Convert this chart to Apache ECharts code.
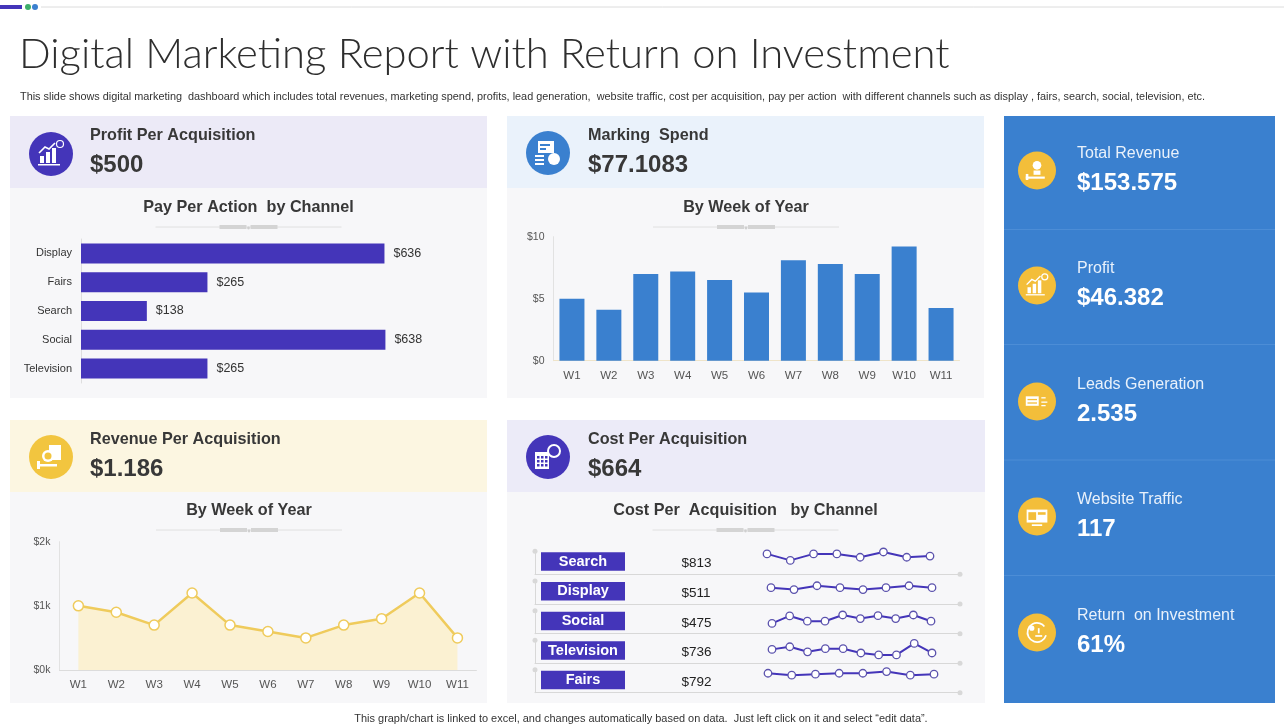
<!DOCTYPE html>
<html lang="en">
<head>
<meta charset="UTF-8">
<title>Digital Marketing Report with Return on Investment</title>
<script src="https://cdn.jsdelivr.net/npm/echarts@6/dist/echarts.min.js"></script>
<style>
  html, body { margin: 0; padding: 0; background: #fff; }
  #main { width: 1284px; height: 726px; }
</style>
</head>
<body>
<div id="main"></div>
<script>
// ---- data ----
const ppaChannels = ['Display', 'Fairs', 'Search', 'Social', 'Television'];
const ppaValues = [636, 265, 138, 638, 265];

const weeks = ['W1', 'W2', 'W3', 'W4', 'W5', 'W6', 'W7', 'W8', 'W9', 'W10', 'W11'];
const spendValues = [5.0, 4.1, 7.0, 7.2, 6.5, 5.5, 8.1, 7.8, 7.0, 9.2, 4.25];
const revenueValues = [1000, 900, 700, 1200, 700, 600, 500, 700, 800, 1200, 500];

const cpaChannels = ['Search', 'Display', 'Social', 'Television', 'Fairs'];
const cpaValues = ['$813', '$511', '$475', '$736', '$792'];
// sparkline values (relative, 0-100 scale)
const trendSearch = [85, 58, 85, 85, 71, 93, 71, 76];
const trendDisplay = [68, 60, 76, 68, 60, 68, 76, 68];
const trendSocial = [43, 74, 52, 52, 78, 63, 75, 63, 78, 52];
const trendTelevision = [58, 69, 48, 61, 61, 43, 35, 35, 83, 43];
const trendFairs = [81, 73, 77, 81, 81, 88, 73, 77];
const cpaTrends = [trendSearch, trendDisplay, trendSocial, trendTelevision, trendFairs];

const kpiLabels = ['Total Revenue', 'Profit', 'Leads Generation', 'Website Traffic', 'Return  on Investment'];
const kpiValues = ['$153.575', '$46.382', '2.535', '117', '61%'];

const titleText = 'Digital Marketing Report with Return on Investment';
const subText = 'This slide shows digital marketing  dashboard which includes total revenues, marketing spend, profits, lead generation,  website traffic, cost per acquisition, pay per action  with different channels such as display , fairs, search, social, television, etc.';
const footText = 'This graph/chart is linked to excel, and changes automatically based on data.  Just left click on it and select \u201cedit data\u201d.';

// ---- colours ----
const PURPLE = '#4435B9';
const BLUE = '#3A80CF';
const GOLD = '#F2C53F';
const DARK = '#383838';
const SANS = '"Liberation Sans", Arial, sans-serif';

// fit a text to a width by font size
function fitSize(text, weight, family, target) {
  const ctx = document.createElement('canvas').getContext('2d');
  ctx.font = weight + ' 100px ' + family;
  return 100 * target / ctx.measureText(text).width;
}

function txt(x, y, text, size, opts) {
  opts = opts || {};
  return {
    type: 'text', x: x, y: y, silent: true,
    style: {
      text: text,
      fill: opts.fill || DARK,
      font: (opts.weight || 'normal') + ' ' + size + 'px ' + (opts.family || SANS),
      align: opts.align || 'left', textAlign: opts.align || 'left',
      verticalAlign: 'middle', textVerticalAlign: 'middle'
    }
  };
}
function rect(x, y, w, h, fill) {
  return { type: 'rect', silent: true, shape: { x: x, y: y, width: w, height: h }, style: { fill: fill } };
}
function circ(cx, cy, r, fill) {
  return { type: 'circle', silent: true, shape: { cx: cx, cy: cy, r: r }, style: { fill: fill } };
}
function line(x1, y1, x2, y2, stroke, w) {
  return { type: 'line', silent: true, shape: { x1: x1, y1: y1, x2: x2, y2: y2 }, style: { stroke: stroke, lineWidth: w || 1 } };
}

// small white glyphs drawn inside the round icons
function icon(cx, cy, r, color, kind) {
  const W = '#fff';
  const els = [circ(cx, cy, r, color)];
  const s = r / 22;
  const R = (x, y, w, h) => rect(cx + x * s, cy + y * s, w * s, h * s, W);
  if (kind === 'growth') {
    els.push(R(-11, 2, 4, 7), R(-5, -2, 4, 11), R(1, -6, 4, 15), R(-13, 10, 22, 1.5));
    els.push({ type: 'polyline', silent: true, shape: { points: [[cx - 12 * s, cy - 1 * s], [cx - 6 * s, cy - 7 * s], [cx - 2 * s, cy - 5 * s], [cx + 4 * s, cy - 11 * s]] }, style: { stroke: W, lineWidth: 1.6 * s, fill: null } });
    els.push({ type: 'circle', silent: true, shape: { cx: cx + 9 * s, cy: cy - 10 * s, r: 3.5 * s }, style: { stroke: W, lineWidth: 1.2, fill: null } });
  } else if (kind === 'spend') {
    els.push(R(-10, -12, 16, 12), R(-13, 2, 9, 2), R(-13, 6, 9, 2), R(-13, 10, 9, 2));
    els.push(circ(cx + 6 * s, cy + 6 * s, 6 * s, W), rect(cx - 8 * s, cy - 9 * s, 10 * s, 2 * s, color), rect(cx - 8 * s, cy - 5 * s, 6 * s, 2 * s, color));
  } else if (kind === 'cash') {
    els.push(R(-2, -12, 12, 15), circ(cx - 3 * s, cy - 1 * s, 6 * s, W), circ(cx - 3 * s, cy - 1 * s, 3.5 * s, color));
    els.push(R(-14, 7, 20, 2.5), R(-14, 4, 3, 8));
  } else if (kind === 'calc') {
    els.push(R(-13, -5, 14, 17));
    for (let i = 0; i < 3; i++) for (let j = 0; j < 3; j++) els.push(rect(cx + (-11 + i * 4) * s, cy + (-1 + j * 4) * s, 2.5 * s, 2.5 * s, color));
    els.push({ type: 'circle', silent: true, shape: { cx: cx + 6 * s, cy: cy - 6 * s, r: 6 * s }, style: { stroke: W, lineWidth: 2 * s, fill: null } });
  } else if (kind === 'leads') {
    els.push(R(-13, -6, 15, 11));
    els.push(rect(cx - 11 * s, cy - 3 * s, 11 * s, 1.5 * s, color), rect(cx - 11 * s, cy + 1 * s, 11 * s, 1.5 * s, color));
    els.push(R(5, -5, 5, 1.5), R(5, 0, 7, 1.5), R(5, 4, 5, 1.5));
  } else if (kind === 'web') {
    els.push(R(-12, -8, 24, 15), rect(cx - 10 * s, cy - 5 * s, 9 * s, 9 * s, color), rect(cx + 1 * s, cy - 5 * s, 9 * s, 3 * s, color), R(-6, 9, 12, 2));
  } else if (kind === 'cycle') {
    els.push({ type: 'arc', silent: true, shape: { cx: cx, cy: cy, r: 11 * s, startAngle: 0.3, endAngle: 5.6 }, style: { stroke: W, lineWidth: 2 * s, fill: null } });
    els.push(circ(cx - 6 * s, cy - 5 * s, 3 * s, W), R(-2, 3, 8, 2), R(1, -5, 2, 6));
  } else if (kind === 'hand') {
    els.push(circ(cx, cy - 6 * s, 5 * s, W), R(-4, 0, 8, 5), R(-13, 7, 22, 2.5), R(-13, 4, 3, 7));
  }
  return els;
}

function divider(cx, y) {
  return [
    line(cx - 93, y, cx + 93, y, '#e0e0e0', 1),
    rect(cx - 29, y - 2, 27, 4, '#d4d4d4'),
    rect(cx + 2, y - 2, 27, 4, '#d4d4d4'),
    circ(cx, y + 1, 1.4, '#cfcfcf')
  ];
}

// ---- layout ----
const rowBase = [574.3, 604, 633.7, 663.3, 692.7];
const sparkX = [[767, 930], [771, 932], [772, 931], [772, 932], [768, 934]];
const kpiY = [154, 269, 385, 500, 616];
const kpiIcons = ['hand', 'growth', 'leads', 'web', 'cycle'];
const HEAD = 16.2;

const g = [];
// top decoration
g.push(rect(0, 5, 22, 4, PURPLE), circ(28, 7, 3, '#3DAE6A'), circ(35, 7, 3, BLUE), line(41, 7, 1284, 7, '#dcdcdc', 1));
g.push(txt(19, 55, titleText, fitSize(titleText, '300', 'Lato', 931), { weight: '300', family: 'Lato', fill: '#2e2e2e' }));
g.push(txt(20, 96.5, subText, fitSize(subText, 'normal', SANS, 1186), { fill: '#333' }));
g.push(txt(641, 719, footText, fitSize(footText, 'normal', SANS, 574), { align: 'center', fill: '#333' }));

// panels
g.push(rect(10, 116, 477, 282, '#F7F7F9'), rect(10, 116, 477, 72, '#ECEAF7'));
g.push(rect(507, 116, 477, 282, '#F7F7F9'), rect(507, 116, 477, 72, '#EAF2FB'));
g.push(rect(10, 420, 477, 283, '#F7F7F9'), rect(10, 420, 477, 72, '#FCF6E1'));
g.push(rect(507, 420, 478, 283, '#F7F7F9'), rect(507, 420, 478, 72, '#ECEBF8'));
g.push(rect(1004, 116, 271, 587, BLUE));
[229.5, 344.5, 460, 575.5].forEach(y => g.push(line(1004, y, 1275, y, '#4C8DD6', 1)));

// panel headers
g.push(...icon(51, 154, 22, PURPLE, 'growth'));
g.push(txt(90, 136, 'Profit Per Acquisition', HEAD, { weight: 'bold' }), txt(90, 165, '$500', 24, { weight: 'bold' }));
g.push(...icon(548, 153, 22, BLUE, 'spend'));
g.push(txt(588, 136, 'Marking  Spend', HEAD, { weight: 'bold' }), txt(588, 165, '$77.1083', 24, { weight: 'bold' }));
g.push(...icon(51, 457, 22, GOLD, 'cash'));
g.push(txt(90, 440, 'Revenue Per Acquisition', HEAD, { weight: 'bold' }), txt(90, 469.5, '$1.186', 24, { weight: 'bold' }));
g.push(...icon(548, 457, 22, PURPLE, 'calc'));
g.push(txt(588, 440, 'Cost Per Acquisition', HEAD, { weight: 'bold' }), txt(588, 469.5, '$664', 24, { weight: 'bold' }));

// chart titles
g.push(txt(248.5, 207.5, 'Pay Per Action  by Channel', HEAD, { weight: 'bold', align: 'center' }), ...divider(248.5, 227));
g.push(txt(746, 207.5, 'By Week of Year', HEAD, { weight: 'bold', align: 'center' }), ...divider(746, 227));
g.push(txt(249, 510.5, 'By Week of Year', HEAD, { weight: 'bold', align: 'center' }), ...divider(249, 530));
g.push(txt(745.5, 510.5, 'Cost Per  Acquisition   by Channel', HEAD, { weight: 'bold', align: 'center' }), ...divider(745.5, 530));

// cost per acquisition row labels
cpaChannels.forEach((name, i) => {
  const b = rowBase[i];
  g.push(rect(541, b - 22, 84, 18.5, PURPLE));
  g.push(txt(583, b - 12.6, name, 14.5, { weight: 'bold', align: 'center', fill: '#fff' }));
  g.push(txt(681.5, b - 10.6, cpaValues[i], 13.5, { fill: '#222' }));
});

// KPI column
kpiLabels.forEach((label, i) => {
  const y = kpiY[i];
  g.push(...icon(1037, y + 16.5, 19, '#F3BE3A', kpiIcons[i]));
  g.push(txt(1077, y, label, 16, { fill: '#E9F1FB' }));
  g.push(txt(1077, y + 29, kpiValues[i], 24, { weight: 'bold', fill: '#fff' }));
});

// ---- grids / axes / series ----
const grids = [
  { left: 81, top: 239, width: 334, height: 144 },
  { left: 553.5, top: 236.7, width: 406, height: 124 },
  { left: 59.4, top: 541.7, width: 417, height: 128.3 }
];
const xAxes = [
  { gridIndex: 0, type: 'value', min: 0, max: 700, show: false },
  { gridIndex: 1, type: 'category', data: weeks,
    axisLine: { lineStyle: { color: '#efe4c9' } }, axisTick: { show: false },
    axisLabel: { color: '#555', fontSize: 11.5, fontFamily: SANS, margin: 9 } },
  { gridIndex: 2, type: 'category', data: weeks,
    axisLine: { lineStyle: { color: '#dcdcdc' } }, axisTick: { show: false },
    axisLabel: { color: '#555', fontSize: 11.5, fontFamily: SANS, margin: 9 } }
];
const yAxes = [
  { gridIndex: 0, type: 'category', data: ppaChannels, inverse: true,
    axisLine: { lineStyle: { color: '#dedede' } }, axisTick: { show: false },
    axisLabel: { color: '#333', fontSize: 11, fontFamily: SANS, margin: 9 } },
  { gridIndex: 1, type: 'value', min: 0, max: 10, interval: 5,
    axisLine: { show: true, lineStyle: { color: '#e2e2e2' } }, splitLine: { show: false },
    axisLabel: { color: '#555', fontSize: 10.5, fontFamily: SANS, margin: 9, formatter: v => '$' + v } },
  { gridIndex: 2, type: 'value', min: 0, max: 2000, interval: 1000,
    axisLine: { show: true, lineStyle: { color: '#e2e2e2' } }, splitLine: { show: false },
    axisLabel: { color: '#555', fontSize: 10.5, fontFamily: SANS, margin: 9, formatter: v => '$' + (v / 1000) + 'k' } }
];
const series = [
  { type: 'bar', xAxisIndex: 0, yAxisIndex: 0, data: ppaValues, barWidth: 20,
    itemStyle: { color: PURPLE },
    label: { show: true, position: 'right', distance: 9, color: '#333', fontSize: 12.5, fontFamily: SANS, formatter: p => '$' + p.value } },
  { type: 'bar', xAxisIndex: 1, yAxisIndex: 1, data: spendValues, barWidth: 25,
    itemStyle: { color: BLUE } },
  { type: 'line', xAxisIndex: 2, yAxisIndex: 2, data: revenueValues,
    symbol: 'circle', symbolSize: 10,
    lineStyle: { color: '#EFCB5C', width: 2.5 },
    itemStyle: { color: '#fff', borderColor: '#EFCB5C', borderWidth: 1.5 },
    areaStyle: { color: '#FCF0CB', opacity: 0.85 } }
];

// sparkline frames and lines, one pair of grids per channel
cpaChannels.forEach((name, i) => {
  const b = rowBase[i];
  const fi = grids.length;
  grids.push({ left: 535, top: b - 23, width: 425, height: 23 });
  xAxes.push({ gridIndex: fi, type: 'value', min: 0, max: 1,
    axisLine: { show: true, symbol: ['none', 'circle'], symbolSize: [5, 5], lineStyle: { color: '#d8d8d8' } },
    axisTick: { show: false }, axisLabel: { show: false }, splitLine: { show: false } });
  yAxes.push({ gridIndex: fi, type: 'value', min: 0, max: 1,
    axisLine: { show: true, symbol: ['none', 'circle'], symbolSize: [5, 5], lineStyle: { color: '#d8d8d8' } },
    axisTick: { show: false }, axisLabel: { show: false }, splitLine: { show: false } });

  const si = grids.length;
  const data = cpaTrends[i];
  grids.push({ left: sparkX[i][0], top: b - 24, width: sparkX[i][1] - sparkX[i][0], height: 24 });
  xAxes.push({ gridIndex: si, type: 'category', boundaryGap: false, data: data.map((_, k) => k + 1), show: false });
  yAxes.push({ gridIndex: si, type: 'value', min: 0, max: 100, show: false });
  series.push({ type: 'line', name: name, xAxisIndex: si, yAxisIndex: si, data: data,
    symbol: 'circle', symbolSize: 7.5,
    lineStyle: { color: PURPLE, width: 2 },
    itemStyle: { color: '#fff', borderColor: '#5b52ad', borderWidth: 1.3 } });
});

const chart = echarts.init(document.getElementById('main'));
chart.setOption({
  animation: false,
  backgroundColor: '#fff',
  graphic: { elements: g },
  grid: grids,
  xAxis: xAxes,
  yAxis: yAxes,
  series: series
});
</script>
</body>
</html>
